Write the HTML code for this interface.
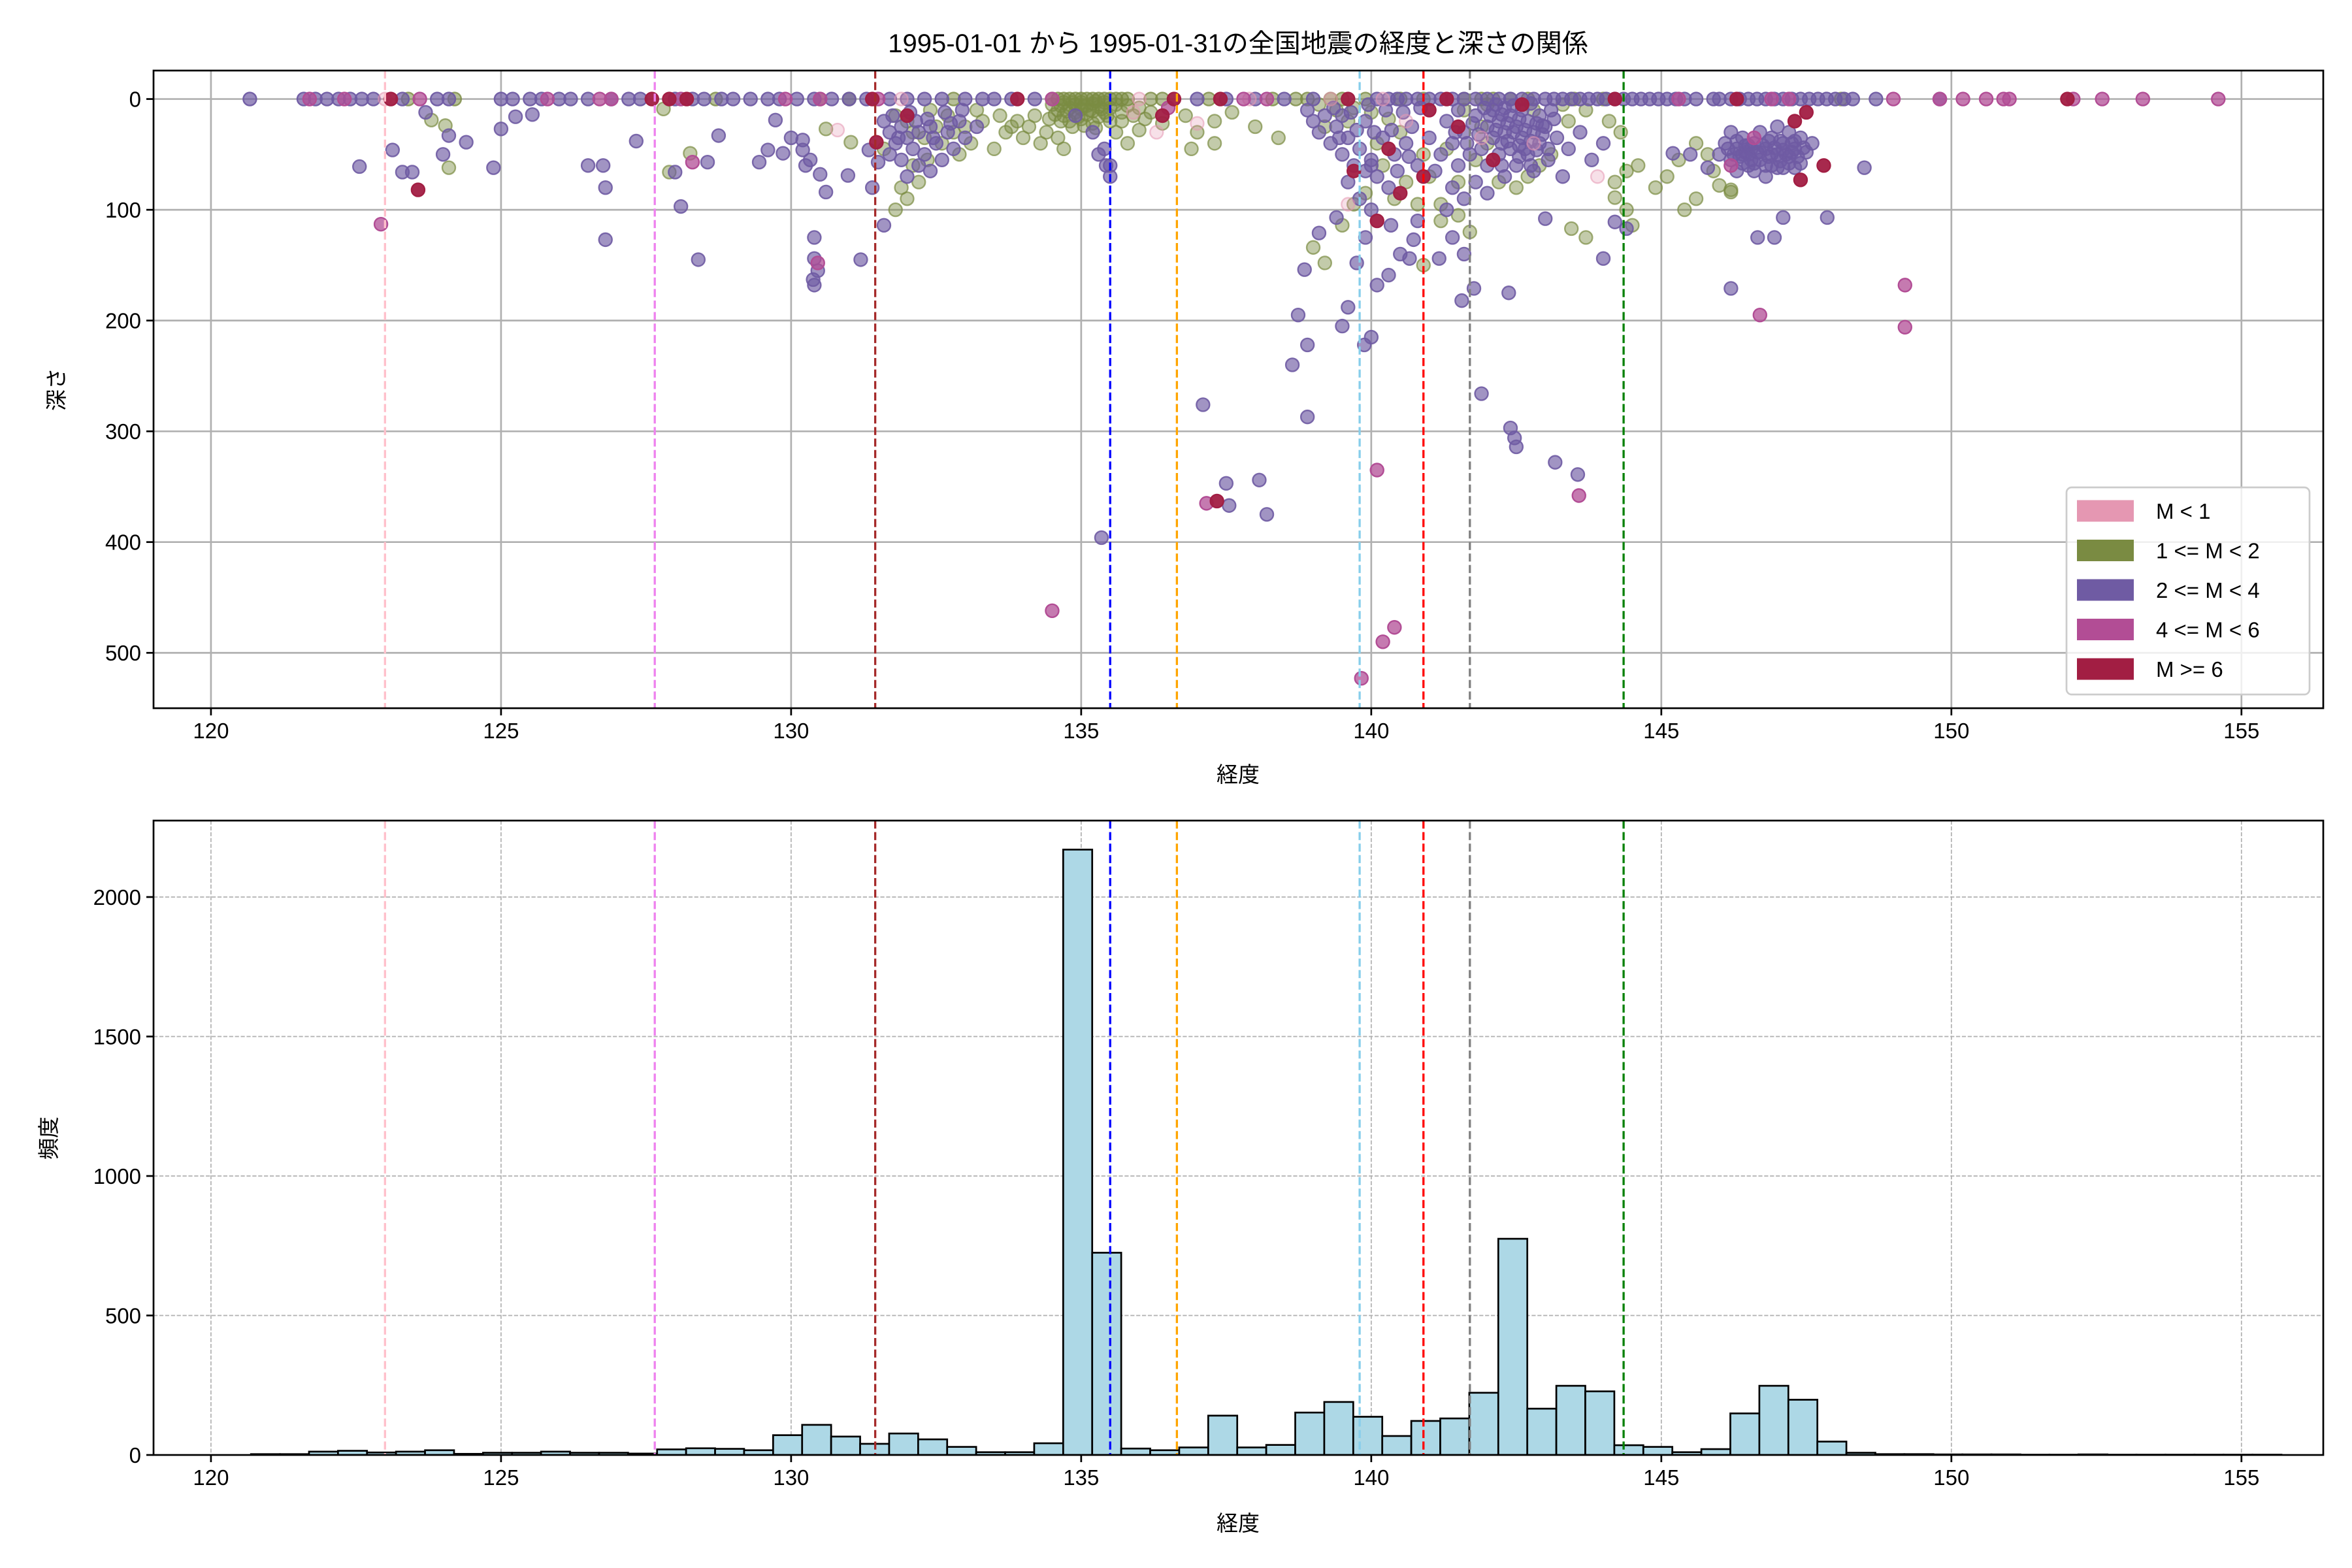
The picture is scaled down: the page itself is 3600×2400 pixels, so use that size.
<!DOCTYPE html>
<html><head><meta charset="utf-8">
<style>
html,body{margin:0;padding:0;background:#fff;}
svg{display:block;font-family:"Liberation Sans","Noto Sans CJK JP",sans-serif;}
</style></head>
<body>
<svg id="fig" width="3600" height="2400" viewBox="0 0 3600 2400" xmlns="http://www.w3.org/2000/svg">
<rect width="3600" height="2400" fill="#fff"/>
<text x="1895" y="80" font-size="40" text-anchor="middle">1995-01-01 から 1995-01-31の全国地震の経度と深さの関係</text>
<g id="topPanel"></g>
<g id="botPanel"></g>
<text x="1895" y="1197" font-size="33" text-anchor="middle">経度</text>
<text x="1895" y="2343" font-size="33" text-anchor="middle">経度</text>
<text x="0" y="0" font-size="33" text-anchor="middle" transform="translate(98,596) rotate(-90)">深さ</text>
<text x="0" y="0" font-size="33" text-anchor="middle" transform="translate(86,1742) rotate(-90)">頻度</text>
</svg>
<script>
// ---- data ----
const xTicks = [120,125,130,135,140,145,150,155];
const depthTicks = [0,100,200,300,400,500];
const countTicks = [0,500,1000,1500,2000];
const refLons = [123.0,127.65,131.45,135.5,136.65,139.8,140.9,141.7,144.35];
const refColors = ['pink','violet','brown','blue','orange','skyblue','red','grey','green'];
const histStart = 120.69;
const histWidth = 0.5;
const histCounts = [3,3,12,15,9,12,17,4,8,8,12,8,8,5,20,24,22,17,71,108,66,40,77,56,29,10,10,42,2170,725,23,17,27,141,27,36,152,190,137,68,122,131,223,775,166,248,228,35,29,10,21,149,248,198,48,8,3,3,2,2,2,1,1,2,1,1,1,1,1,1];
const legendLabels = ['M < 1','1 <= M < 2','2 <= M < 4','4 <= M < 6','M >= 6'];
const classColors = ['#e597b2','#7a8b42','#6f5ba3','#b24d95','#a21e43'];
const surfPink = [123.0,131.9,136.0,137.9,139.3,140.2];
const surfGreen = [123.4,124.2,128.7,130.5,131.0,132.8,134.5,134.7,134.9,135.1,135.3,135.5,135.8,136.2,137.2,138.3,138.7,139.3,139.9,140.5,140.9,141.6,142.4,143.5,144.0,148.1,134.6,134.8,135.0,135.2,135.4,135.6,135.7,136.4,138.9,139.5,141.9,142.1,142.7];
const surfPurple = [120.67,121.6,121.8,122.0,122.2,122.4,122.6,122.8,123.3,123.9,124.1,125.0,125.2,125.5,125.7,126.0,126.2,126.5,126.9,127.2,127.4,128.0,128.3,128.5,128.8,129.0,129.3,129.6,129.8,130.1,130.4,130.7,131.0,131.3,131.7,132.0,132.3,132.6,133.0,133.3,133.5,133.8,134.2,137.0,137.5,138.0,138.5,139.0,140.3,140.6,141.0,141.4,141.8,142.2,142.6,143.0,143.3,143.6,143.9,144.2,144.5,144.8,145.1,145.4,145.9,146.2,146.5,146.8,147.1,147.4,147.7,148.0,148.3,148.7,149.8,140.1,140.45,140.8,141.2,141.6,142.0,142.4,142.8,143.15,143.45,143.75,144.05,144.35,144.65,144.95,145.25,145.6,146.0,146.35,146.65,146.95,147.25,147.55,147.85,148.15];
const surfMagenta = [121.7,122.3,123.6,125.8,126.7,126.9,128.1,129.9,130.5,131.5,134.5,137.8,138.2,145.3,146.9,147.2,149.0,149.8,150.2,150.6,150.9,151.0,152.1,152.6,153.3,154.6];
const surfCrimson = [123.1,127.6,127.9,128.2,131.4,133.9,136.6,137.4,139.6,141.3,144.2,146.3,152.0];
const ptsPink = [[130.8,28],[136.3,30],[137.0,22],[139.6,95],[140.6,20],[141.9,35],[143.9,70],[135.9,12],[142.8,40]];
const ptsGreen = [[124.04,24],[124.1,62],[123.8,19],[127.8,9],[127.9,66],[128.26,49],[130.6,27],[131.03,39],[139.0,134],[139.2,148],[139.5,114],[143.45,117],[143.7,125],[144.5,114],[144.2,89],[144.4,100],[145.4,100],[145.6,90],[146.2,84],[139.7,95],[140.9,150],[141.2,110],
[134.5,5],[134.6,10],[134.7,3],[134.7,15],[134.8,8],[134.8,20],[134.9,5],[134.9,12],[135.0,3],[135.0,9],[135.0,18],[135.1,6],[135.1,14],[135.2,4],[135.2,11],[135.2,22],[135.3,7],[135.3,16],[135.4,3],[135.4,12],[135.5,8],[135.5,20],[135.6,5],[135.7,12],[135.8,6],[135.9,15],[136.0,8],[136.2,12],[134.4,30],[134.6,35],[134.7,45],[134.3,40],[134.0,35],[133.7,30],[133.5,45],[133.8,25],[135.6,30],[135.8,40],[136.0,28],[136.4,22],[136.8,15],[137.0,30],[137.3,20],[137.6,12],[138.0,25],[138.4,35],[136.9,45],[137.3,40],
[134.65,6],[134.75,11],[134.85,3],[134.95,16],[135.05,6],[135.15,10],[135.25,2],[135.35,9],[135.45,15],[134.55,14],[134.65,20],[134.85,25],[135.05,24],[135.25,26],[134.45,18],[135.7,20],[136.1,18],[133.9,20],[134.1,25],[134.2,15],[133.2,10],[133.0,25],
[131.6,45],[131.8,15],[132.0,20],[132.1,60],[132.3,35],[132.5,25],[132.6,40],[132.8,30],[132.9,50],[133.1,40],[133.3,20],[133.6,15],[131.9,80],[132.0,90],[131.8,100],[132.2,75],[132.4,10],[132.7,15],[132.1,30],[132.35,55],
[139.1,5],[139.4,10],[139.7,8],[140.0,12],[140.3,18],[140.5,30],[140.2,60],[140.6,75],[140.4,90],[139.9,85],[140.9,50],[141.0,70],[140.8,95],[139.2,25],[139.6,20],[140.1,40],
[141.3,45],[141.5,75],[141.8,55],[142.0,40],[142.2,75],[142.5,80],[142.7,70],[142.9,60],[143.1,50],[143.4,20],[143.7,10],[144.1,20],[144.3,30],[144.4,65],[144.2,75],[144.6,60],[141.2,95],[141.5,105],[141.7,120],[141.6,10],[142.0,5],[142.8,10],[143.3,5],[141.9,25],
[145.8,50],[145.9,65],[146.0,78],[146.2,82],[145.6,40],[145.3,55],[145.1,70],[144.9,80]];
const ptsPurple = [[122.56,61],[123.13,46],[123.3,66],[123.47,66],[124.1,33],[124.0,50],[124.4,39],[123.7,12],[124.87,62],[125.0,27],[125.25,16],[125.54,14],[126.5,60],[126.76,60],[126.8,80],[126.8,127],[127.33,38],[128.0,66],[128.1,97],[128.4,145],[128.75,33],[128.56,57],[129.45,57],[129.6,46],[129.73,19],[129.86,49],[130.0,35],[130.2,37],[130.2,46],[130.25,60],[130.33,55],[130.4,125],[130.4,144],[130.46,155],[130.4,168],[130.38,163],[130.5,68],[130.6,84],[130.98,69],[131.2,145],[131.34,46],[131.4,80],[131.5,57],[131.6,114],[135.35,396],[135.43,60],[137.1,276],[137.5,347],[137.55,367],[138.07,344],[138.2,375],[138.74,195],[138.64,240],[138.9,222],[138.9,287],[138.85,154],[139.1,121],[139.4,107],[139.6,188],[139.75,148],[139.88,222],[140.1,168],[140.3,159],[140.34,114],[140.66,144],[140.73,127],[141.17,144],[141.3,100],[141.56,182],[141.77,171],[141.9,266],[142.37,175],[142.4,297],[142.47,306],[142.5,314],[143.17,328],[143.56,339],[143.0,108],[144.0,144],[144.2,111],[144.4,117],[145.2,49],[145.5,50],[145.8,62],[146.2,171],[146.66,125],[146.95,125],[147.1,107],[147.86,107],[148.5,62],[140.0,60],[139.9,125],[140.8,110],[140.5,140],[141.4,125],[141.6,140],[140.0,215],[139.5,205],
[134.9,15],[135.2,30],[135.4,45],[135.5,60],[135.3,50],[135.5,70],
[131.6,20],[131.7,30],[131.8,40],[131.9,25],[132.0,35],[132.1,45],[132.2,30],[132.3,50],[132.4,25],[132.5,40],[132.6,55],[132.7,30],[132.8,45],[132.9,20],[133.0,35],[133.2,25],[131.9,55],[132.2,60],[132.4,65],[131.7,50],[132.0,70],[131.75,15],[132.05,12],[132.35,18],[132.65,12],[132.95,10],[131.85,35],[132.15,20],[132.45,35],[132.75,22],
[138.9,10],[139.0,20],[139.1,30],[139.2,15],[139.3,40],[139.4,25],[139.5,50],[139.6,35],[139.7,60],[139.8,45],[139.9,20],[140.0,55],[140.1,70],[140.2,35],[140.3,80],[139.6,75],[139.8,90],[140.0,100],[139.5,15],[139.9,65],[140.4,50],[140.6,40],[140.8,60],[140.7,25],[139.35,8],[139.65,12],[139.95,5],[140.25,10],[140.55,12],[140.85,8],[139.45,35],[139.75,28],[140.05,30],[140.35,28],[140.65,52],[140.45,65],
[141.3,20],[141.4,40],[141.5,60],[141.6,30],[141.7,50],[141.8,15],[141.9,45],[142.0,25],[142.0,60],[142.1,10],[142.1,35],[142.2,20],[142.2,50],[142.3,8],[142.3,30],[142.4,15],[142.4,45],[142.5,25],[142.5,60],[142.6,10],[142.6,35],[142.7,20],[142.7,50],[142.8,30],[142.9,15],[142.9,40],[143.0,25],[143.1,10],[143.2,35],[141.4,80],[141.6,90],[141.8,75],[142.0,85],[141.5,10],[141.2,50],[141.0,35],[141.1,65],[142.3,70],[142.8,65],[143.4,45],[143.6,30],[143.8,55],[144.0,40],[143.3,70],
[142.15,5],[142.25,14],[142.35,22],[142.45,6],[142.55,18],[142.65,28],[142.75,4],[142.85,22],[142.95,32],[142.15,28],[142.25,40],[142.35,38],[142.45,30],[142.55,42],[142.65,45],[142.75,38],[142.85,46],[142.95,24],[143.05,45],[143.15,18],[142.05,15],[141.95,8],[141.85,32],[141.75,22],[142.25,60],[142.55,52],[142.75,60],[143.05,55],[141.65,40],[141.45,30],
[146.0,50],[146.1,40],[146.2,55],[146.3,45],[146.4,35],[146.5,50],[146.5,60],[146.6,40],[146.7,55],[146.7,30],[146.8,45],[146.9,60],[146.9,35],[147.0,50],[147.1,40],[147.1,62],[147.2,30],[147.2,52],[147.3,45],[147.4,35],[147.4,58],[146.6,65],[146.3,65],[147.0,25],[146.8,70],[147.5,48],[147.6,40],[147.3,62],[146.4,58],[146.2,30],[146.55,45],[146.85,52],[147.05,38],[146.45,42],[147.25,48],
[146.15,45],[146.25,50],[146.35,52],[146.45,48],[146.55,55],[146.65,48],[146.75,42],[146.85,38],[146.95,44],[147.05,56],[147.15,50],[147.25,40],[147.35,52],[147.45,44],[146.3,38],[146.5,42],[146.7,48],[146.9,50],[147.1,46],[147.3,38],[146.6,58],[146.8,60],[147.0,62],[146.4,50],[147.2,58]];
const ptsMagenta = [[122.93,113],[128.3,57],[130.46,148],[134.5,462],[137.16,365],[139.83,523],[140.2,490],[140.4,477],[140.1,335],[143.58,358],[146.7,195],[149.2,168],[149.2,206],[146.6,35],[146.2,60],[136.5,8]];
const ptsCrimson = [[123.57,82],[131.47,39],[137.34,363],[132.0,15],[139.7,65],[140.3,45],[140.5,85],[140.9,70],[140.1,110],[141.5,25],[142.1,55],[141.0,10],[142.6,5],[147.3,20],[147.5,12],[147.8,60],[147.4,73],[136.4,15]];

// ---- layout ----
const NS='http://www.w3.org/2000/svg';
const AX={l:235,r:3556};
const T={t:108,b:1084,dmin:-25.7,dmax:550};
const B={t:1256,b:2227,cmax:2274};
const XMIN=119.01, XMAX=156.41;
function xs(v){return AX.l+(v-XMIN)/(XMAX-XMIN)*(AX.r-AX.l);}
function yd(d){return T.t+(d-T.dmin)/(T.dmax-T.dmin)*(T.b-T.t);}
function yc(c){return B.b-c/B.cmax*(B.b-B.t);}
function mk(tag,attrs,parent){const e=document.createElementNS(NS,tag);for(const k in attrs)e.setAttribute(k,attrs[k]);parent.appendChild(e);return e;}
const topG=document.getElementById('topPanel'), botG=document.getElementById('botPanel');

const defs=mk('defs',{},document.getElementById('fig'));
const c1=mk('clipPath',{id:'ct'},defs);mk('rect',{x:AX.l,y:T.t,width:AX.r-AX.l,height:T.b-T.t},c1);
const c2=mk('clipPath',{id:'cb'},defs);mk('rect',{x:AX.l,y:B.t,width:AX.r-AX.l,height:B.b-B.t},c2);

xTicks.forEach(v=>{
  const l=mk('line',{x1:xs(v),x2:xs(v),y1:T.t,y2:T.b,stroke:'#b0b0b0','stroke-width':2.7},topG);
  
  
});
depthTicks.forEach(v=>{
  const l=mk('line',{x1:AX.l,x2:AX.r,y1:yd(v),y2:yd(v),stroke:'#b0b0b0','stroke-width':2.7},topG);
  
  
});
const sg=mk('g',{'clip-path':'url(#ct)'},topG);


function drawPts(list,cls,alpha){
  list.forEach(p=>{
    const c=mk('circle',{cx:xs(p[0]),cy:yd(p[1]),r:10,fill:classColors[cls],'fill-opacity':alpha,stroke:classColors[cls],'stroke-opacity':Math.min(1,alpha+0.25),'stroke-width':2.4},sg);
    
    
  });
}
function surf(list){return list.map(v=>[v,0]);}
drawPts(surf(surfGreen),1,0.55);
drawPts(ptsGreen,1,0.45);
drawPts(surf(surfPurple),2,0.7);
drawPts(ptsPurple,2,0.65);
drawPts(surf(surfPink),0,0.35);
drawPts(ptsPink,0,0.3);
drawPts(surf(surfMagenta),3,0.75);
drawPts(ptsMagenta,3,0.75);
drawPts(surf(surfCrimson),4,0.95);
drawPts(ptsCrimson,4,0.95);
refLons.forEach((v,i)=>{
  const l=mk('line',{x1:xs(v),x2:xs(v),y1:T.t,y2:T.b,stroke:refColors[i],'stroke-width':3.3,'stroke-dasharray':'12.3,5.3'},topG);
  
  
});
const ft=mk('rect',{x:AX.l,y:T.t,width:AX.r-AX.l,height:T.b-T.t,fill:'none',stroke:'#000','stroke-width':2.7},topG);


xTicks.forEach(v=>{
  mk('line',{x1:xs(v),x2:xs(v),y1:T.b,y2:T.b+11,stroke:'#000','stroke-width':2.7},topG);
  const t=mk('text',{x:xs(v),y:T.b+46,'font-size':33,'text-anchor':'middle'},topG);
  t.textContent=v;
  
  
});
depthTicks.forEach(v=>{
  mk('line',{x1:AX.l-11,x2:AX.l,y1:yd(v),y2:yd(v),stroke:'#000','stroke-width':2.7},topG);
  const t=mk('text',{x:AX.l-19,y:yd(v)+12,'font-size':33,'text-anchor':'end'},topG);
  t.textContent=v;
  
  
});
const lg=mk('g',{},topG);


mk('rect',{x:3163,y:746,width:372,height:317,rx:8,fill:'#fff','fill-opacity':0.8,stroke:'#cccccc','stroke-width':2.7},lg);
legendLabels.forEach((s,i)=>{
  const cy=782+i*60.5;
  const p=mk('rect',{x:3179,y:cy-16.5,width:87,height:33,fill:classColors[i]},lg);
  
  
  const t=mk('text',{x:3300,y:cy+12,'font-size':33},lg);
  t.textContent=s;
  
  
});

xTicks.forEach(v=>{
  const l=mk('line',{x1:xs(v),x2:xs(v),y1:B.t,y2:B.b,stroke:'#b0b0b0','stroke-width':1.7,'stroke-dasharray':'6.2,2.7'},botG);
  
  
});
countTicks.forEach(v=>{
  const l=mk('line',{x1:AX.l,x2:AX.r,y1:yc(v),y2:yc(v),stroke:'#b0b0b0','stroke-width':1.7,'stroke-dasharray':'6.2,2.7'},botG);
  
  
});
const hg=mk('g',{'clip-path':'url(#cb)'},botG);


histCounts.forEach((c,i)=>{
  const x0=xs(histStart+i*histWidth), x1=xs(histStart+(i+1)*histWidth);
  const r=mk('rect',{x:x0,y:yc(c),width:x1-x0,height:yc(0)-yc(c),fill:'#add8e6',stroke:'#000','stroke-width':2.7},hg);
  
  
});
refLons.forEach((v,i)=>{
  const l=mk('line',{x1:xs(v),x2:xs(v),y1:B.t,y2:B.b,stroke:refColors[i],'stroke-width':3.3,'stroke-dasharray':'12.3,5.3'},botG);
  
  
});
const fb=mk('rect',{x:AX.l,y:B.t,width:AX.r-AX.l,height:B.b-B.t,fill:'none',stroke:'#000','stroke-width':2.7},botG);


xTicks.forEach(v=>{
  mk('line',{x1:xs(v),x2:xs(v),y1:B.b,y2:B.b+11,stroke:'#000','stroke-width':2.7},botG);
  const t=mk('text',{x:xs(v),y:B.b+46,'font-size':33,'text-anchor':'middle'},botG);
  t.textContent=v;
  
  
});
countTicks.forEach(v=>{
  mk('line',{x1:AX.l-11,x2:AX.l,y1:yc(v),y2:yc(v),stroke:'#000','stroke-width':2.7},botG);
  const t=mk('text',{x:AX.l-19,y:yc(v)+12,'font-size':33,'text-anchor':'end'},botG);
  t.textContent=v;
  
  
});
</script>
</body></html>
